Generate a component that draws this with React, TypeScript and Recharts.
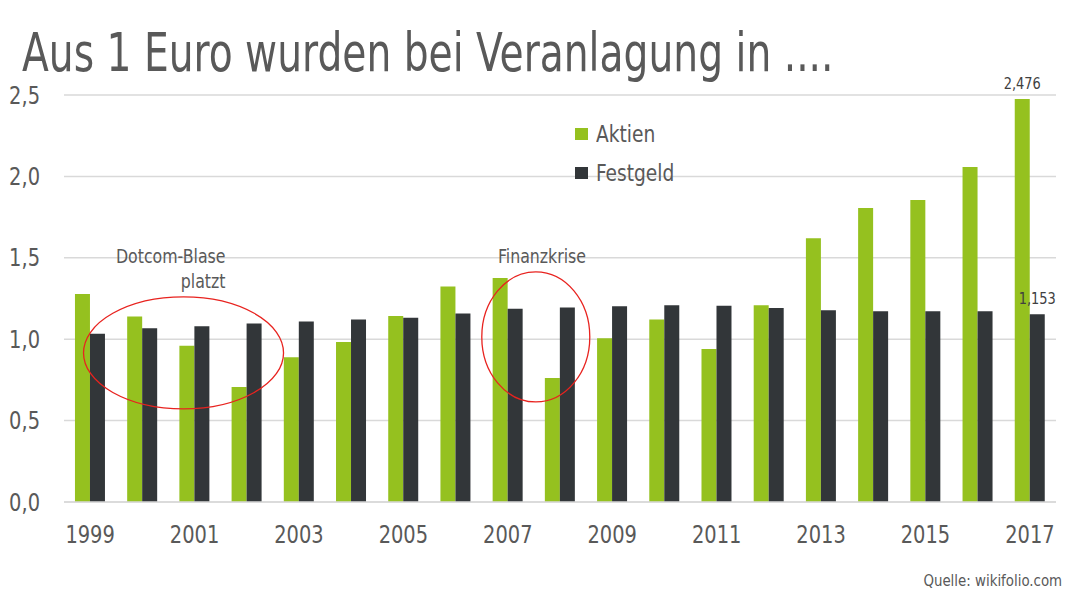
import { BarChart, Bar, XAxis, YAxis, CartesianGrid, LabelList, ReferenceDot } from 'recharts'

const YEARS = ['1999', '2000', '2001', '2002', '2003', '2004', '2005', '2006', '2007', '2008',
  '2009', '2010', '2011', '2012', '2013', '2014', '2015', '2016', '2017']
const AKTIEN = [1.277, 1.139, 0.959, 0.706, 0.889, 0.983, 1.143, 1.324, 1.376, 0.762,
  1.006, 1.121, 0.940, 1.209, 1.620, 1.806, 1.855, 2.057, 2.476]
const FESTGELD = [1.033, 1.068, 1.080, 1.096, 1.108, 1.121, 1.131, 1.158, 1.187, 1.195,
  1.203, 1.209, 1.205, 1.191, 1.178, 1.172, 1.172, 1.172, 1.153]
const Y_TICKS = [0, 0.5, 1, 1.5, 2, 2.5]
const SERIES = [
  { key: 'aktien', label: 'Aktien', color: '#95c11f' },
  { key: 'festgeld', label: 'Festgeld', color: '#323639' },
]

const TEXT = '#595959'
const FONT = '"Liberation Sans Narrow", "DejaVu Sans Condensed", "Roboto", sans-serif'
// DejaVu Condensed is still wider than the original's condensed face
const SX = 0.9

const LAST = YEARS.length - 1

const data = YEARS.map((year, i) => ({
  year,
  aktien: AKTIEN[i],
  festgeld: FESTGELD[i],
}))

const formatDe = (v: number, digits: number) => v.toFixed(digits).replace('.', ',')

function NText({ x, y, size, anchor = 'middle', fill = TEXT, dy = 0, children }: any) {
  return (
    <text transform={`translate(${x},${y}) scale(${SX},1)`} x={0} y={0} dy={dy}
      textAnchor={anchor} fontSize={size} fill={fill} fontFamily={FONT}>
      {children}
    </text>
  )
}

function XTick(props: any) {
  const { x, y, payload } = props
  return <NText x={x} y={y} dy={17.5} size={24}>{payload.value}</NText>
}

function YTick(props: any) {
  const { x, y, payload } = props
  return <NText x={x} y={y} dy={8.5} size={24} anchor="end">{formatDe(payload.value, 1)}</NText>
}

function lastLabel(props: any) {
  const { x, y, width, value, index } = props
  if (index !== LAST) return null
  return (
    <NText x={Number(x) + Number(width) / 2} y={Number(y) - 10} size={16} fill="#404040">
      {formatDe(Number(value), 3)}
    </NText>
  )
}

const ellipse = (dx: number, rx: number, ry: number) => (p: any) => (
  <ellipse cx={p.cx + dx} cy={p.cy} rx={rx} ry={ry} fill="none" stroke="#e8231f" strokeWidth={1.3} />
)

const note = (lines: string[], dx: number, anchor: 'start' | 'middle' | 'end') => (p: any) => (
  <g>
    {lines.map((l, i) => (
      <NText key={i} x={p.cx + dx} y={p.cy + i * 25} size={19.5} anchor={anchor}>{l}</NText>
    ))}
  </g>
)

export default function App() {
  return (
    <div style={{ position: 'absolute', left: 0, top: 0, width: 1072, height: 604, background: '#fff', fontFamily: FONT }}>
      <div style={{ position: 'absolute', left: 22, top: 26, fontSize: 54, lineHeight: '54px', color: TEXT,
        whiteSpace: 'nowrap', transform: 'scaleX(0.807)', transformOrigin: 'left top' }}>
        Aus 1 Euro wurden bei Veranlagung in ....
      </div>
      <BarChart width={1072} height={604} data={data}
        margin={{ top: 95, right: 16, left: 0, bottom: 42 }}
        barCategoryGap="21%" barGap={0}>
        <CartesianGrid vertical={false} stroke="#d9d9d9" strokeWidth={1.5} />
        <XAxis dataKey="year" interval={1} height={60} tickLine={false}
          axisLine={{ stroke: '#d9d9d9', strokeWidth: 1.5 }}
          tickSize={6} tickMargin={17} tick={<XTick />} />
        <YAxis domain={[0, 2.5]} ticks={Y_TICKS} width={64} axisLine={false} tickLine={false}
          tickSize={6} tickMargin={18} tick={<YTick />} />
        {SERIES.map((s) => (
          <Bar key={s.key} dataKey={s.key} name={s.label} fill={s.color} isAnimationActive={false}>
            <LabelList dataKey={s.key} content={lastLabel} />
          </Bar>
        ))}
        <ReferenceDot x="2001" y={0.916} ifOverflow="visible" shape={ellipse(-11, 100, 56)} />
        <ReferenceDot x="2007" y={1.014} ifOverflow="visible" shape={ellipse(28, 54, 65)} />
        <ReferenceDot x="2001" y={1.47} ifOverflow="visible" shape={note(['Dotcom-Blase', 'platzt'], 31, 'end')} />
        <ReferenceDot x="2008" y={1.47} ifOverflow="visible" shape={note(['Finanzkrise'], -18, 'middle')} />
      </BarChart>
      <div style={{ position: 'absolute', left: 575, top: 114, color: TEXT }}>
        {SERIES.map((s) => (
          <div key={s.key} style={{ display: 'flex', alignItems: 'center', height: 39 }}>
            <span style={{ width: 13, height: 12, background: s.color, marginRight: 8, display: 'inline-block' }} />
            <span style={{ fontSize: 23, display: 'inline-block', transform: `scaleX(${SX})`, transformOrigin: 'left center' }}>
              {s.label}
            </span>
          </div>
        ))}
      </div>
      <div style={{ position: 'absolute', right: 10, top: 571, fontSize: 16.5, color: TEXT,
        transform: `scaleX(${SX})`, transformOrigin: 'right top' }}>
        Quelle: wikifolio.com
      </div>
    </div>
  )
}
